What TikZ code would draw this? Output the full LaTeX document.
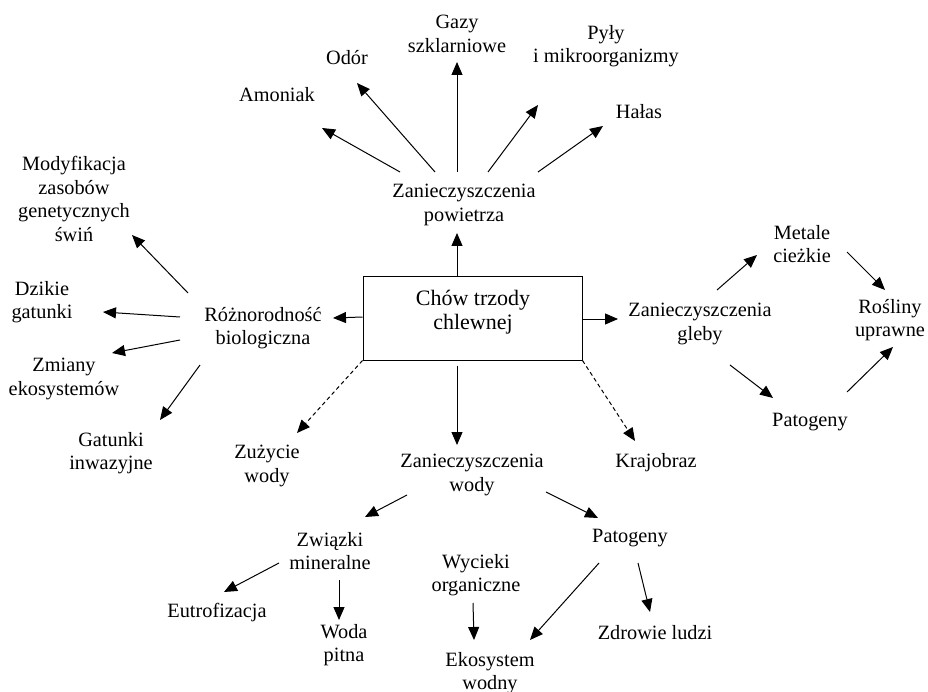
\documentclass[tikz,border=0pt]{standalone}
\usepackage{fontspec}
\setmainfont{Liberation Serif}
\usetikzlibrary{arrows.meta}
\begin{document}
\begin{tikzpicture}[x=1pt,y=-1pt,
  lbl/.style={align=center, inner sep=0pt, font=\fontsize{20.3}{23.5}\selectfont},
  boxlbl/.style={align=center, inner sep=0pt, font=\fontsize{22}{24.5}\selectfont},
  arr/.style={-{Triangle[length=13pt,width=11pt]}, line width=1pt},
  dsh/.style={arr, dash pattern=on 4pt off 3pt}]
\useasboundingbox[fill=white] (0,0) rectangle (928,692);
% central box
\node[draw, line width=1pt, minimum width=219pt, minimum height=83pt, inner sep=0pt] (box) at (472.5,318.5) {};
\node[boxlbl] (boxt) at (473,312) {Chów trzody\\chlewnej};
% air
\node[lbl] (pow) at (464,205) {Zanieczyszczenia\\powietrza};
\node[lbl] (gazy) at (457,34) {Gazy\\szklarniowe};
\node[lbl] (odor) at (347,58) {Odór};
\node[lbl] (pyly) at (606,46) {Pyły\\i mikroorganizmy};
\node[lbl] (amon) at (277,95) {Amoniak};
\node[lbl] (halas) at (639,112) {Hałas};
% biodiversity
\node[lbl] (roz) at (263,328) {Różnorodność\\biologiczna};
\node[lbl] (mod) at (74,199) {Modyfikacja\\zasobów\\genetycznych\\świń};
\node[lbl] (dzik) at (42,302) {Dzikie\\gatunki};
\node[lbl] (zmi) at (64,379) {Zmiany\\ekosystemów};
\node[lbl] (gat) at (111,453) {Gatunki\\inwazyjne};
% others
\node[lbl] (zuz) at (267,466) {Zużycie\\wody};
\node[lbl] (kraj) at (656,463) {Krajobraz};
% soil
\node[lbl] (gleb) at (700,324) {Zanieczyszczenia\\gleby};
\node[lbl] (met) at (802,244) {Metale\\cieżkie};
\node[lbl] (ros) at (890,320) {Rośliny\\uprawne};
\node[lbl] (patg) at (810,422) {Patogeny};
% water
\node[lbl] (wody) at (472,475) {Zanieczyszczenia\\wody};
\node[lbl] (zwi) at (330,551) {Związki\\mineralne};
\node[lbl] (wyc) at (476,575) {Wycieki\\organiczne};
\node[lbl] (eut) at (217,613) {Eutrofizacja};
\node[lbl] (woda) at (344,645) {Woda\\pitna};
\node[lbl] (patw) at (630,538) {Patogeny};
\node[lbl] (ekos) at (490,673) {Ekosystem\\wodny};
\node[lbl] (zdr) at (655,633) {Zdrowie ludzi};
% air arrows
\draw[arr] ([shift={(-64,-33)}]pow.center) -- ([shift={(45,33)}]amon.center);
\draw[arr] ([shift={(-29,-33)}]pow.center) -- ([shift={(10,25)}]odor.center);
\draw[arr] ([shift={(-7,-33)}]pow.center) -- ([shift={(0,28)}]gazy.center);
\draw[arr] ([shift={(24,-33)}]pow.center) -- ([shift={(-68,59)}]pyly.center);
\draw[arr] ([shift={(74,-33)}]pow.center) -- ([shift={(-36,14)}]halas.center);
% from box
\draw[arr] ([xshift=-15.5pt]box.north) -- ([shift={(-7,28)}]pow.center);
\draw[arr] ([shift={(0,-1.5)}]box.west) -- ([shift={(70,-10)}]roz.center);
\draw[arr] ([shift={(0,0.5)}]box.east) -- ([shift={(-82,-5)}]gleb.center);
\draw[arr] ([shift={(-15.5,5)}]box.south) -- ([shift={(-15,-30)}]wody.center);
\draw[dsh] (box.south west) -- ([shift={(30,-33)}]zuz.center);
\draw[dsh] (box.south east) -- ([shift={(-21,-22)}]kraj.center);
% biodiversity arrows
\draw[arr] ([shift={(-75,-35)}]roz.center) -- ([shift={(58,36)}]mod.center);
\draw[arr] ([shift={(-83,-11)}]roz.center) -- ([shift={(61,10)}]dzik.center);
\draw[arr] ([shift={(-83,12)}]roz.center) -- ([shift={(48,-26)}]zmi.center);
\draw[arr] ([shift={(-63,37)}]roz.center) -- ([shift={(49,-33)}]gat.center);
% soil arrows
\draw[arr] ([shift={(17,-34)}]gleb.center) -- ([shift={(-45,11)}]met.center);
\draw[arr] ([shift={(45,8)}]met.center) -- ([shift={(-5,-30)}]ros.center);
\draw[arr] ([shift={(30,41)}]gleb.center) -- ([shift={(-37,-24)}]patg.center);
\draw[arr] ([shift={(37,-30)}]patg.center) -- ([shift={(3,27)}]ros.center);
% water arrows
\draw[arr] ([shift={(-65,20)}]wody.center) -- ([shift={(35,-34)}]zwi.center);
\draw[arr] ([shift={(74,17)}]wody.center) -- ([shift={(-32,-20)}]patw.center);
\draw[arr] ([shift={(-51,12)}]zwi.center) -- ([shift={(7,-21)}]eut.center);
\draw[arr] ([shift={(9,29)}]zwi.center) -- ([shift={(-5,-25)}]woda.center);
\draw[arr] ([shift={(-3,28)}]wyc.center) -- ([shift={(-16,-33)}]ekos.center);
\draw[arr] ([shift={(-31,25)}]patw.center) -- ([shift={(40,-33)}]ekos.center);
\draw[arr] ([shift={(8,25)}]patw.center) -- ([shift={(-5,-21)}]zdr.center);
\end{tikzpicture}
\end{document}
